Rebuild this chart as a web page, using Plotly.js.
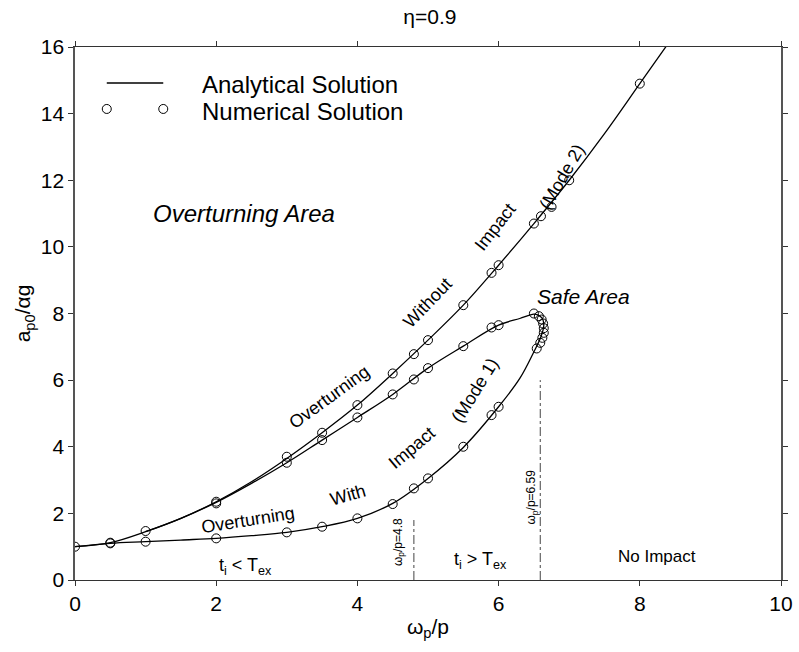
<!DOCTYPE html>
<html><head><meta charset="utf-8">
<script src="https://cdn.plot.ly/plotly-3.0.1.min.js"></script>
<style>body{margin:0;background:#fff}#c{width:799px;height:652px}</style>
</head><body><div id="c"></div>
<script>
// Analytical solution curves
const upperX = [0,0.5,1,1.5,2,2.5,3,3.5,4,4.5,5,5.5,6,6.5,7,7.5,8,8.4];
const upperY = [1,1.12,1.45,1.85,2.35,2.95,3.65,4.42,5.25,6.2,7.2,8.25,9.45,10.7,12.0,13.4,14.9,16.1];
const loopX = [0,0.5,1,1.5,2,2.5,3,3.5,4,4.5,5,5.5,6,6.3,6.5,6.6,6.64,6.62,6.56,6.5,6.3,6,5.5,5,4.5,4,3.5,3,2.5,2,1.5,1];
const loopY = [1,1.1,1.15,1.2,1.25,1.33,1.43,1.6,1.85,2.3,3.05,3.98,5.2,6.05,6.85,7.3,7.65,7.85,7.95,7.98,7.85,7.65,7.02,6.36,5.57,4.88,4.2,3.52,2.9,2.33,1.85,1.45];
// Numerical solution points
const numUpX = [0,0.5,1,2,3,3.5,4,4.5,4.8,5,5.5,5.9,6,6.5,6.6,6.75,7,8];
const numUpY = [1,1.12,1.47,2.35,3.7,4.42,5.25,6.2,6.78,7.2,8.25,9.22,9.45,10.7,10.92,11.2,12.0,14.9];
const numMidX = [2,3,3.5,4,4.5,4.8,5,5.5,5.9,6];
const numMidY = [2.3,3.52,4.2,4.88,5.57,6.02,6.36,7.02,7.58,7.65];
const numNoseX = [6.5,6.57,6.61,6.63,6.64,6.64,6.62,6.59,6.54];
const numNoseY = [8.0,7.92,7.82,7.7,7.56,7.42,7.27,7.12,6.95];
const numLowX = [0.5,1,2,3,3.5,4,4.5,4.8,5,5.5,5.9,6];
const numLowY = [1.1,1.15,1.25,1.43,1.6,1.85,2.28,2.75,3.05,4.0,4.95,5.2];
// Boundary lines
const vline1X = [4.8,4.8], vline1Y = [0,1.8];
const vline2X = [6.59,6.59], vline2Y = [0,6.0];
// Legend sample marks
const legLineX = [0.45,1.25], legLineY = [14.92,14.92];
const legDotX = [0.45,1.25], legDotY = [14.14,14.14];

const font = 'Liberation Sans, Arial, sans-serif';
const lineStyle = {color:'#000', width:1.3};
const mk = {symbol:'circle-open', size:9, color:'#000', line:{width:1,color:'#000'}};

const traces = [
  {x:upperX, y:upperY, mode:'lines', line:Object.assign({shape:'spline'}, lineStyle)},
  {x:loopX, y:loopY, mode:'lines', line:Object.assign({shape:'spline'}, lineStyle)},
  {x:numUpX, y:numUpY, mode:'markers', marker:mk},
  {x:numMidX, y:numMidY, mode:'markers', marker:mk},
  {x:numNoseX, y:numNoseY, mode:'markers', marker:mk},
  {x:numLowX, y:numLowY, mode:'markers', marker:mk},
  {x:vline1X, y:vline1Y, mode:'lines', line:{color:'#444', width:1, dash:'dashdot'}},
  {x:vline2X, y:vline2Y, mode:'lines', line:{color:'#444', width:1, dash:'dashdot'}},
  {x:legLineX, y:legLineY, mode:'lines', line:lineStyle},
  {x:legDotX, y:legDotY, mode:'markers', marker:mk}
];

function ann(text, x, y, size, angle, extra){
  return Object.assign({text:text, x:x, y:y, xref:'x', yref:'y', showarrow:false,
    textangle:angle||0, font:{family:font, size:size, color:'#000'}}, extra||{});
}

const annotations = [
  ann('<i>Overturning Area</i>', 2.39, 11.0, 24),
  ann('<i>Safe Area</i>', 7.2, 8.5, 21),
  ann('Overturning', 3.6, 5.5, 18, -36),
  ann('Without', 4.99, 8.32, 18, -46),
  ann('Impact', 5.95, 10.6, 18, -52),
  ann('(Mode 2)', 6.9, 12.1, 18, -60),
  ann('Overturning', 2.45, 1.8, 18, -9),
  ann('With', 3.87, 2.55, 18, -16),
  ann('Impact', 4.77, 3.96, 18, -40),
  ann('(Mode 1)', 5.67, 5.7, 18, -58),
  ann('t<sub>i</sub> &lt; T<sub>ex</sub>', 2.41, 0.42, 18),
  ann('t<sub>i</sub> &gt; T<sub>ex</sub>', 5.75, 0.6, 18),
  ann('No Impact', 8.24, 0.72, 17),
  ann('ω<sub>p</sub>/p=4.8', 4.58, 1.15, 12, -90),
  ann('ω<sub>p</sub>/p=6.59', 6.47, 2.5, 12, -90),
  ann('Analytical Solution', 1.77, 14.86, 24, 0, {xanchor:'left'}),
  ann('Numerical Solution', 1.77, 14.05, 24, 0, {xanchor:'left'})
];

const layout = {
  width:799, height:652,
  margin:{l:75, r:18, t:47, b:72},
  paper_bgcolor:'#fff', plot_bgcolor:'#fff',
  showlegend:false,
  title:{text:'η=0.9', x:0.538, xanchor:'center', y:0.974, yanchor:'middle', font:{family:font, size:21, color:'#000'}},
  xaxis:{range:[0,10], dtick:2, showgrid:false, zeroline:false, showline:true, linecolor:'#333', linewidth:1.2,
    mirror:'ticks', ticks:'outside', ticklen:5, tickcolor:'#333',
    tickfont:{family:font, size:21, color:'#000'},
    title:{text:'ω<sub>p</sub>/p', font:{family:font, size:21, color:'#000'}, standoff:4}},
  yaxis:{range:[0,16], dtick:2, showgrid:false, zeroline:false, showline:true, linecolor:'#555', linewidth:1.6,
    mirror:'ticks', ticks:'outside', ticklen:5, tickcolor:'#333',
    tickfont:{family:font, size:21, color:'#000'},
    title:{text:'a<sub>p0</sub>/αg', font:{family:font, size:21, color:'#000'}, standoff:4}},
  annotations:annotations
};

Plotly.newPlot('c', traces, layout, {displayModeBar:false, staticPlot:true});
</script></body></html>
